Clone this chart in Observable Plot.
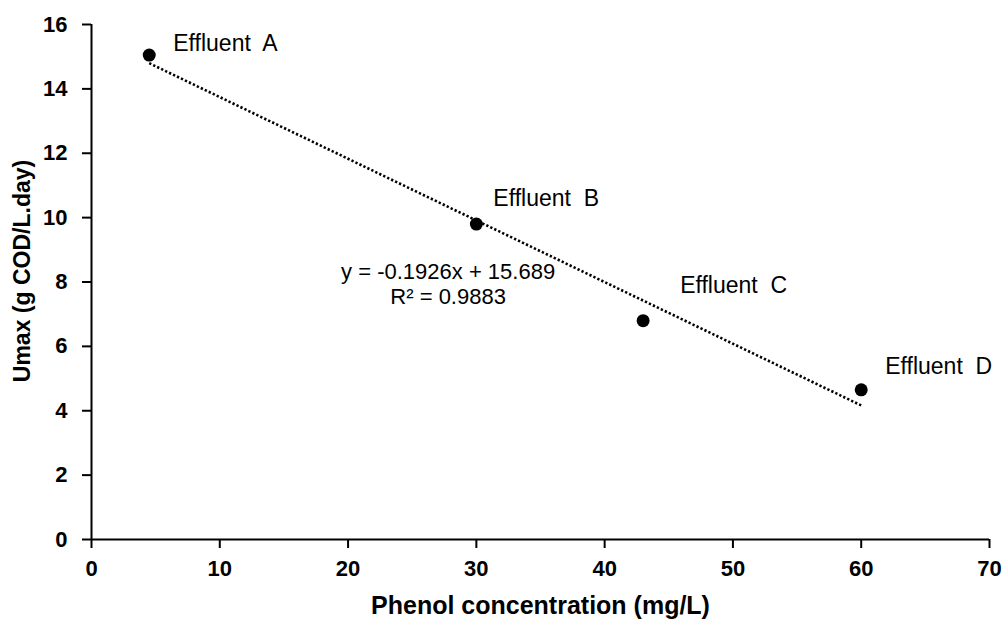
<!DOCTYPE html>
<html>
<head>
<meta charset="utf-8">
<script src="https://cdn.jsdelivr.net/npm/d3@7"></script>
<script src="https://cdn.jsdelivr.net/npm/@observablehq/plot@0.6"></script>
<style>
  html, body { margin: 0; padding: 0; background: #fff; }
  #chart svg { display: block; }
  .trend path { stroke-dasharray: 2.3 2.1; stroke-linecap: butt; }
</style>
</head>
<body>
<div id="chart"></div>
<script>
// ---- data ----
const effluents = ["Effluent  A", "Effluent  B", "Effluent  C", "Effluent  D"];
const phenol = [4.5, 30, 43, 60];           // mg/L
const umax = [15.05, 9.8, 6.8, 4.65];       // g COD/L.day
const xTicks = [0, 10, 20, 30, 40, 50, 60, 70];
const yTicks = [0, 2, 4, 6, 8, 10, 12, 14, 16];
const xTitle = "Phenol concentration (mg/L)";
const yTitle = "Umax (g COD/L.day)";
const equationText = "y = -0.1926x + 15.689\nR\u00b2 = 0.9883";
const equationAt = [{x: 27.8, y: 7.95}];

const data = effluents.map((name, i) => ({name, x: phenol[i], y: umax[i]}));

// per-label pixel offsets (styling)
const labelOffsets = [[24, -11], [17, -25], [37, -35], [24, -23]];

const font = "'Liberation Sans', Arial, Helvetica, sans-serif";

const labelMarks = data.map((d, i) =>
  Plot.text([d], {
    x: "x", y: "y", text: "name",
    dx: labelOffsets[i][0], dy: labelOffsets[i][1],
    textAnchor: "start", fontSize: 23, fontWeight: "normal", fill: "#000"
  })
);

const chart = Plot.plot({
  width: 1006,
  height: 619,
  marginLeft: 91,
  marginRight: 17,
  marginTop: 24,
  marginBottom: 80,
  style: {fontFamily: font, fontSize: "22px", fontWeight: "bold", color: "#000", background: "#fff"},
  x: {domain: [0, 70]},
  y: {domain: [0, 16]},
  marks: [
    Plot.axisX({ticks: xTicks, tickSize: 9, tickPadding: 12, strokeWidth: 2, label: null, tickFormat: d => String(d)}),
    Plot.axisY({ticks: yTicks, tickSize: 9, tickPadding: 15, strokeWidth: 2, label: null, tickFormat: d => String(d)}),
    Plot.ruleY([0], {stroke: "#000", strokeWidth: 2}),
    Plot.ruleX([0], {stroke: "#000", strokeWidth: 2}),
    Plot.linearRegressionY(data, {x: "x", y: "y", stroke: "#000", strokeWidth: 2.6, strokeDasharray: "2.3,2.1", strokeLinecap: "butt", ci: 0, className: "trend"}),
    Plot.dot(data, {x: "x", y: "y", r: 6.5, fill: "#000", stroke: "none"}),
    ...labelMarks,
    Plot.text(equationAt, {x: "x", y: "y", text: () => equationText, fontSize: 22, fontWeight: "normal", lineHeight: 1.15, textAnchor: "middle", fill: "#000"}),
    Plot.text([xTitle], {frameAnchor: "bottom", dy: 66, lineAnchor: "middle", textAnchor: "middle", fontSize: 25, fontWeight: "bold", fill: "#000"}),
    Plot.text([yTitle], {frameAnchor: "left", dx: -69, dy: -11, rotate: -90, textAnchor: "middle", lineAnchor: "middle", fontSize: 23, fontWeight: "bold", fill: "#000"})
  ]
});
document.getElementById("chart").appendChild(chart);
</script>
</body>
</html>
